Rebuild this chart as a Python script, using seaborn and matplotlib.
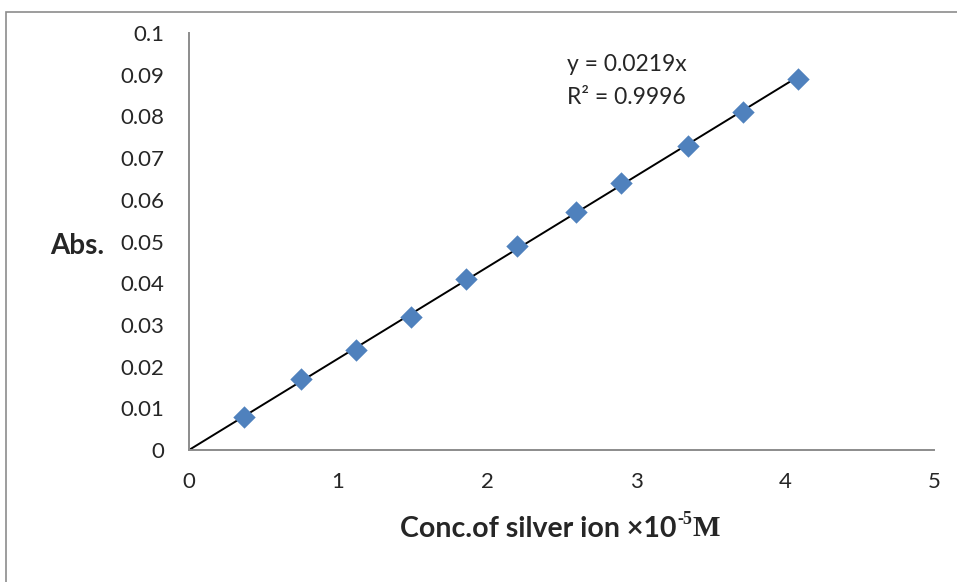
import matplotlib
matplotlib.use("Agg")
import matplotlib.pyplot as plt
import seaborn as sns
import numpy as np
import pandas as pd
from matplotlib.patches import Rectangle

# Calibration data: silver ion concentration vs absorbance
conc = [0.37, 0.75, 1.12, 1.49, 1.86, 2.20, 2.60, 2.90, 3.35, 3.72, 4.09]
absorbance = [0.008, 0.017, 0.024, 0.032, 0.041, 0.049, 0.057, 0.064, 0.073, 0.081, 0.089]
slope = 0.0219
r_squared = 0.9996
x_ticks = [0, 1, 2, 3, 4, 5]
y_ticks = [0, 0.01, 0.02, 0.03, 0.04, 0.05, 0.06, 0.07, 0.08, 0.09, 0.1]
y_tick_labels = ["0", "0.01", "0.02", "0.03", "0.04", "0.05", "0.06", "0.07", "0.08", "0.09", "0.1"]

df = pd.DataFrame({"conc": conc, "abs": absorbance})

sns.set_theme(style="white")
plt.rcParams["font.family"] = ["Lato", "DejaVu Sans"]

fig = plt.figure(figsize=(9.57, 5.82), dpi=100)
ax = fig.add_axes([189 / 957, 1 - 450 / 582, (934 - 189) / 957, (450 - 33) / 582])

# Outer chart frame
fig.patches.append(Rectangle((5.5 / 957, -0.5), 2.0, 1.5 - 12 / 582,
                             transform=fig.transFigure, fill=False,
                             edgecolor="#8c8c8c", lw=1.2, clip_on=False))

# Trendline through the origin
xs = np.array([0, max(conc)])
ax.plot(xs, slope * xs, color="black", lw=1.4, zorder=2)

sns.scatterplot(data=df, x="conc", y="abs", marker="D", s=130, color="#4F81BD",
                edgecolor="#4F81BD", linewidth=0, ax=ax, zorder=3)

ax.set_xlim(0, 5)
ax.set_ylim(0, 0.1)
ax.set_xticks(x_ticks)
ax.set_xticklabels([str(t) for t in x_ticks], fontsize=16)
ax.set_yticks(y_ticks)
ax.set_yticklabels(y_tick_labels, fontsize=16)
ax.tick_params(axis="both", which="both", direction="out", length=6, width=1.2,
               color="#8c8c8c")
ax.tick_params(axis="y", pad=12)
ax.tick_params(axis="x", pad=10)

for side in ["top", "right"]:
    ax.spines[side].set_visible(False)
for side in ["left", "bottom"]:
    ax.spines[side].set_color("#8c8c8c")
    ax.spines[side].set_linewidth(1.4)

ax.set_xlabel("")
ax.set_ylabel("")

# Axis titles
fig.text(50 / 957, 1 - 246 / 582, "Abs.", fontsize=20, fontweight="bold",
         ha="left", va="center")
lbl = fig.text(400 / 957, 1 - 537 / 582, "Conc.of silver ion \u00d710",
               fontsize=20.5, fontweight="bold", ha="left", va="baseline")
ax.annotate("-5", xy=(1, 0), xycoords=lbl, xytext=(0.5, 10),
            textcoords="offset points", fontsize=13, fontweight="bold",
            family="Liberation Serif", ha="left", va="bottom",
            annotation_clip=False)
ax.annotate("M", xy=(1, 0), xycoords=lbl, xytext=(11.5, 0), textcoords="offset points",
            fontsize=21, fontweight="bold", family="Liberation Serif",
            ha="left", va="bottom", annotation_clip=False)

# Regression equation
ax.text(2.54, 0.0925, f"y = {slope}x", fontsize=16.5, ha="left", va="center")
ax.text(2.54, 0.0845, f"R\u00b2 = {r_squared}", fontsize=16.5, ha="left", va="center")

fig.savefig("out.png", dpi=100)
